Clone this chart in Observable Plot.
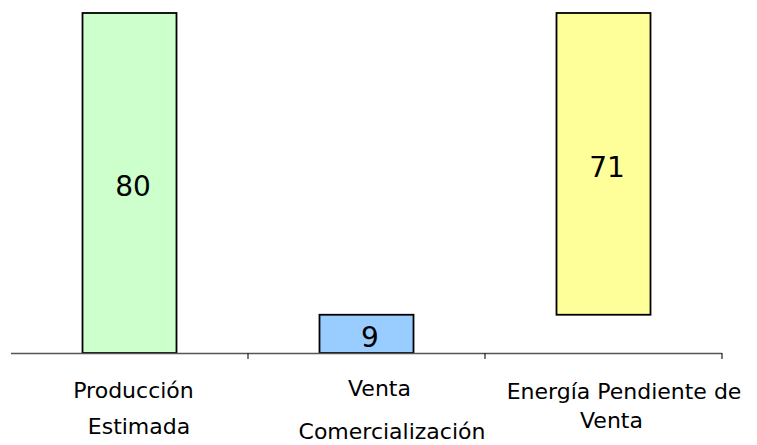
<!DOCTYPE html>
<html><head><meta charset="utf-8">
<script src="https://cdn.jsdelivr.net/npm/d3@7"></script>
<script src="https://cdn.jsdelivr.net/npm/@observablehq/plot@0.6"></script>
<style>body{margin:0;background:#fff;} #chart svg{display:block;}</style>
</head><body><div id="chart"></div>
<script>
// Data
const categories = ["Producción Estimada", "Venta Comercialización", "Energía Pendiente de Venta"];
const labelLines = [["Producción", "Estimada"], ["Venta", "Comercialización"], ["Energía Pendiente de", "Venta"]];
const values = [80, 9, 71];
const bases = [0, 0, 9];
const colors = ["#CCFFCC", "#99CCFF", "#FFFF99"];

// Styles (offsets of each label line, in pixels below the axis / beside the band centre)
const FONT = "DejaVu Sans";
const lineDy = [[44, 80], [42, 85], [45, 74]];
const lineDx = [[3.5, 9], [12.5, 25], [20, 7.5]];

const bars = categories.map((c, i) => ({cat: c, y1: bases[i], y2: bases[i] + values[i], v: values[i], color: colors[i]}));

const tickMark = (index, scales, channels, dims) => {
  const x = scales.x, y = scales.y;
  const bw = x.bandwidth ? x.bandwidth() : (dims.width - dims.marginLeft - dims.marginRight) / categories.length;
  const g = d3.create("svg:g");
  categories.forEach(c => {
    const px = x(c) + bw;
    g.append("line").attr("x1", px).attr("x2", px).attr("y1", y(0)).attr("y2", y(0) + 6)
      .attr("stroke", "#222").attr("stroke-width", 1.2);
  });
  return g.node();
};

const labelMarks = [];
categories.forEach((c, i) => {
  labelLines[i].forEach((line, j) => {
    labelMarks.push(Plot.text([bars[i]], {
      x: "cat",
      frameAnchor: "bottom",
      lineAnchor: "bottom",
      text: () => line,
      fontSize: 22,
      fontFamily: FONT,
      fill: "#000",
      dy: lineDy[i][j],
      dx: lineDx[i][j]
    }));
  });
});

const plot = Plot.plot({
  width: 757,
  height: 445,
  marginTop: 13,
  marginBottom: 92,
  marginLeft: 11,
  marginRight: 35,
  style: {fontFamily: FONT, background: "#fff"},
  x: {type: "band", domain: categories, padding: 0, axis: null},
  y: {domain: [0, 80], axis: null},
  color: {type: "identity"},
  marks: [
    Plot.barY(bars, {x: "cat", y1: "y1", y2: "y2", fill: "color", stroke: "#000", strokeWidth: 1.8, insetLeft: 71.5, insetRight: 71.5}),
    Plot.ruleY([0], {stroke: "#555", strokeWidth: 1.3}),
    tickMark,
    Plot.text(bars, {x: "cat", y: d => (d.y1 + d.y2) / 2, text: d => String(d.v), fontSize: 28, fontFamily: FONT, fill: "#000", dy: 4, dx: 3}),
    ...labelMarks
  ]
});
document.getElementById("chart").appendChild(plot);
</script>
</body></html>
